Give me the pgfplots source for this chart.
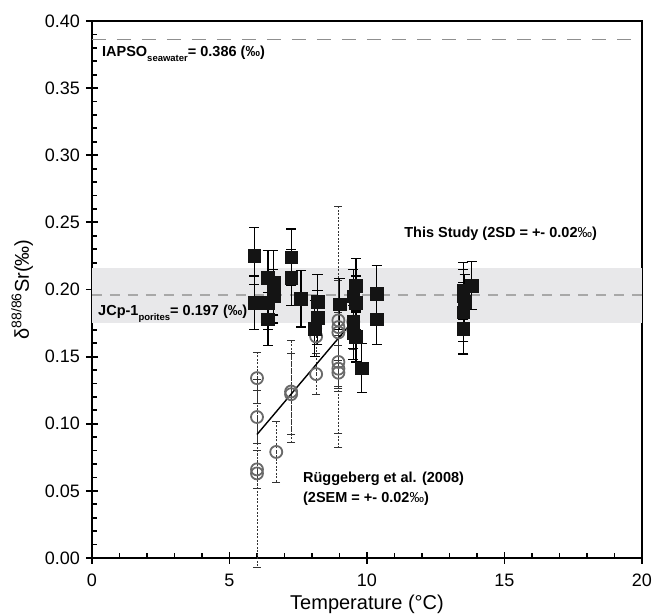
\documentclass[border=0pt]{standalone}
\usepackage{pgfplots}
\pgfplotsset{compat=1.18}
\usepackage{pgfplotstable}
\usepackage{fontspec}
\setmainfont{Liberation Sans}
\definecolor{bandgray}{HTML}{E8E8EA}
\definecolor{dashgray}{HTML}{A8A8A8}
\definecolor{circgray}{HTML}{6A6A6A}

\pgfplotstableread{
x y e
5.9 0.225 0.021
5.9 0.190 0.020
6.4 0.209 0.020
6.4 0.190 0.020
6.4 0.178 0.020
6.6 0.205 0.024
6.6 0.195 0.020
7.25 0.224 0.021
7.25 0.209 0.021
7.6 0.193 0.021
8.2 0.191 0.020
8.2 0.179 0.020
8.1 0.171 0.021
9.0 0.189 0.019
9.5 0.195 0.020
9.5 0.176 0.020
9.5 0.168 0.020
9.6 0.203 0.020
9.6 0.190 0.020
9.6 0.165 0.019
9.8 0.1415 0.018
10.35 0.197 0.021
10.35 0.178 0.019
13.5 0.199 0.021
13.5 0.195 0.020
13.55 0.191 0.020
13.5 0.183 0.022
13.5 0.171 0.019
13.8 0.203 0.018
}\thisstudy

\pgfplotstableread{
x y e
6.0 0.134 0.019
6.0 0.105 0.020
6.0 0.066 0.014
6.0 0.063 0.070
6.7 0.079 0.023
7.24 0.124 0.038
7.24 0.122 0.030
8.15 0.165 0.015
8.15 0.137 0.015
8.96 0.177 0.030
8.96 0.172 0.090
8.96 0.168 0.040
8.96 0.146 0.020
8.96 0.141 0.017
8.96 0.138 0.045
9.5 0.176 0.015
9.5 0.170 0.015
}\rueggeberg

\begin{document}
\begin{tikzpicture}
\begin{axis}[
  name=ax,
  at={(0,0)}, anchor=south west,
  scale only axis,
  width=550pt, height=537pt,
  xmin=0, xmax=20, ymin=0, ymax=0.40,
  clip=false,
  axis line style={line width=2.4pt, black},
  xtick={0,5,10,15,20},
  ytick={0,0.05,...,0.40},
  minor x tick num=4,
  minor y tick num=4,
  xtick pos=bottom, ytick pos=left,
  tick align=center,
  major tick length=12pt,
  minor tick length=5pt,
  every tick/.style={black, line width=1.8pt},
  minor x tick style={yshift=2.5pt},
  minor y tick style={xshift=2.5pt},
  /pgf/number format/assume math mode=true,
  yticklabel style={/pgf/number format/fixed, /pgf/number format/fixed zerofill, /pgf/number format/precision=2},
  yticklabel style={anchor=east, inner sep=0pt, xshift=-6pt, font=\fontsize{18}{20}\selectfont},
  xticklabel style={anchor=base, inner sep=0pt, yshift=-23pt, font=\fontsize{18}{20}\selectfont},
  every axis x label/.style={at={(axis description cs:0.5,-0.096)}, anchor=base},
  every axis y label/.style={at={(axis description cs:-0.127,0.5)}, rotate=90, anchor=center},
  label style={font=\fontsize{20}{22}\selectfont},
  xlabel={Temperature (°C)},
  ylabel={δ\textsuperscript{88/86}Sr(‰)},
]
% band
\addplot[draw=none, fill=bandgray] coordinates {(0,0.175) (20,0.175) (20,0.216) (0,0.216)} -- cycle;
\addplot[dashgray, line width=1.6pt, dash pattern=on 10pt off 8pt] coordinates {(0,0.196) (20,0.196)};
\addplot[dashgray!85!black, line width=0.9pt, dash pattern=on 14pt off 11pt] coordinates {(0,0.386) (20,0.386)};

% Rueggeberg et al.
\addplot[only marks, mark=o, mark size=6pt, circgray, mark options={line width=1.8pt, circgray},
  error bars/.cd, y dir=both, y explicit,
  error bar style={black!80, line width=0.9pt, dash pattern=on 2pt off 1.5pt},
  error mark options={solid, black!80, mark size=4pt, line width=0.9pt, rotate=90}]
  table[x=x, y=y, y error=e] {\rueggeberg};
\addplot[black, line width=1.4pt] coordinates {(6.0,0.092) (9.55,0.178)};

% This study
\addplot[only marks, mark=square*, mark size=6.3pt, mark options={fill=black!92, draw=black!92},
  error bars/.cd, y dir=both, y explicit,
  error bar style={black, line width=1.2pt},
  error mark options={black, mark size=5pt, line width=1.2pt, rotate=90}]
  table[x=x, y=y, y error=e] {\thisstudy};

\node[anchor=base west, font=\bfseries\fontsize{14.5}{16}\selectfont, inner sep=0pt] at (axis cs:0.36,0.3735)
  {IAPSO\raisebox{-5pt}{\fontsize{9.5}{10}\selectfont seawater}= 0.386 (‰)};
\node[anchor=base west, font=\bfseries\fontsize{14.5}{16}\selectfont, inner sep=0pt] at (axis cs:0.22,0.181)
  {JCp-1\raisebox{-5pt}{\fontsize{9.5}{10}\selectfont porites}= 0.197 (‰)};
\node[anchor=base west, font=\bfseries\fontsize{14.5}{16}\selectfont, inner sep=0pt] at (axis cs:11.35,0.239)
  {This Study (2SD = +- 0.02{\mdseries ‰})};
\node[anchor=base west, font=\bfseries\fontsize{14.5}{16}\selectfont, inner sep=0pt] at (axis cs:7.67,0.0559)
  {Rüggeberg et al. (2008)};
\node[anchor=base west, font=\bfseries\fontsize{14.5}{16}\selectfont, inner sep=0pt] at (axis cs:7.67,0.0417)
  {(2SEM = +- 0.02{\mdseries ‰})};
\end{axis}
\pgfresetboundingbox
\path[use as bounding box] ([shift={(-92pt,-57pt)}]ax.south west) rectangle ([shift={(15pt,21pt)}]ax.north east);
\end{tikzpicture}
\end{document}
